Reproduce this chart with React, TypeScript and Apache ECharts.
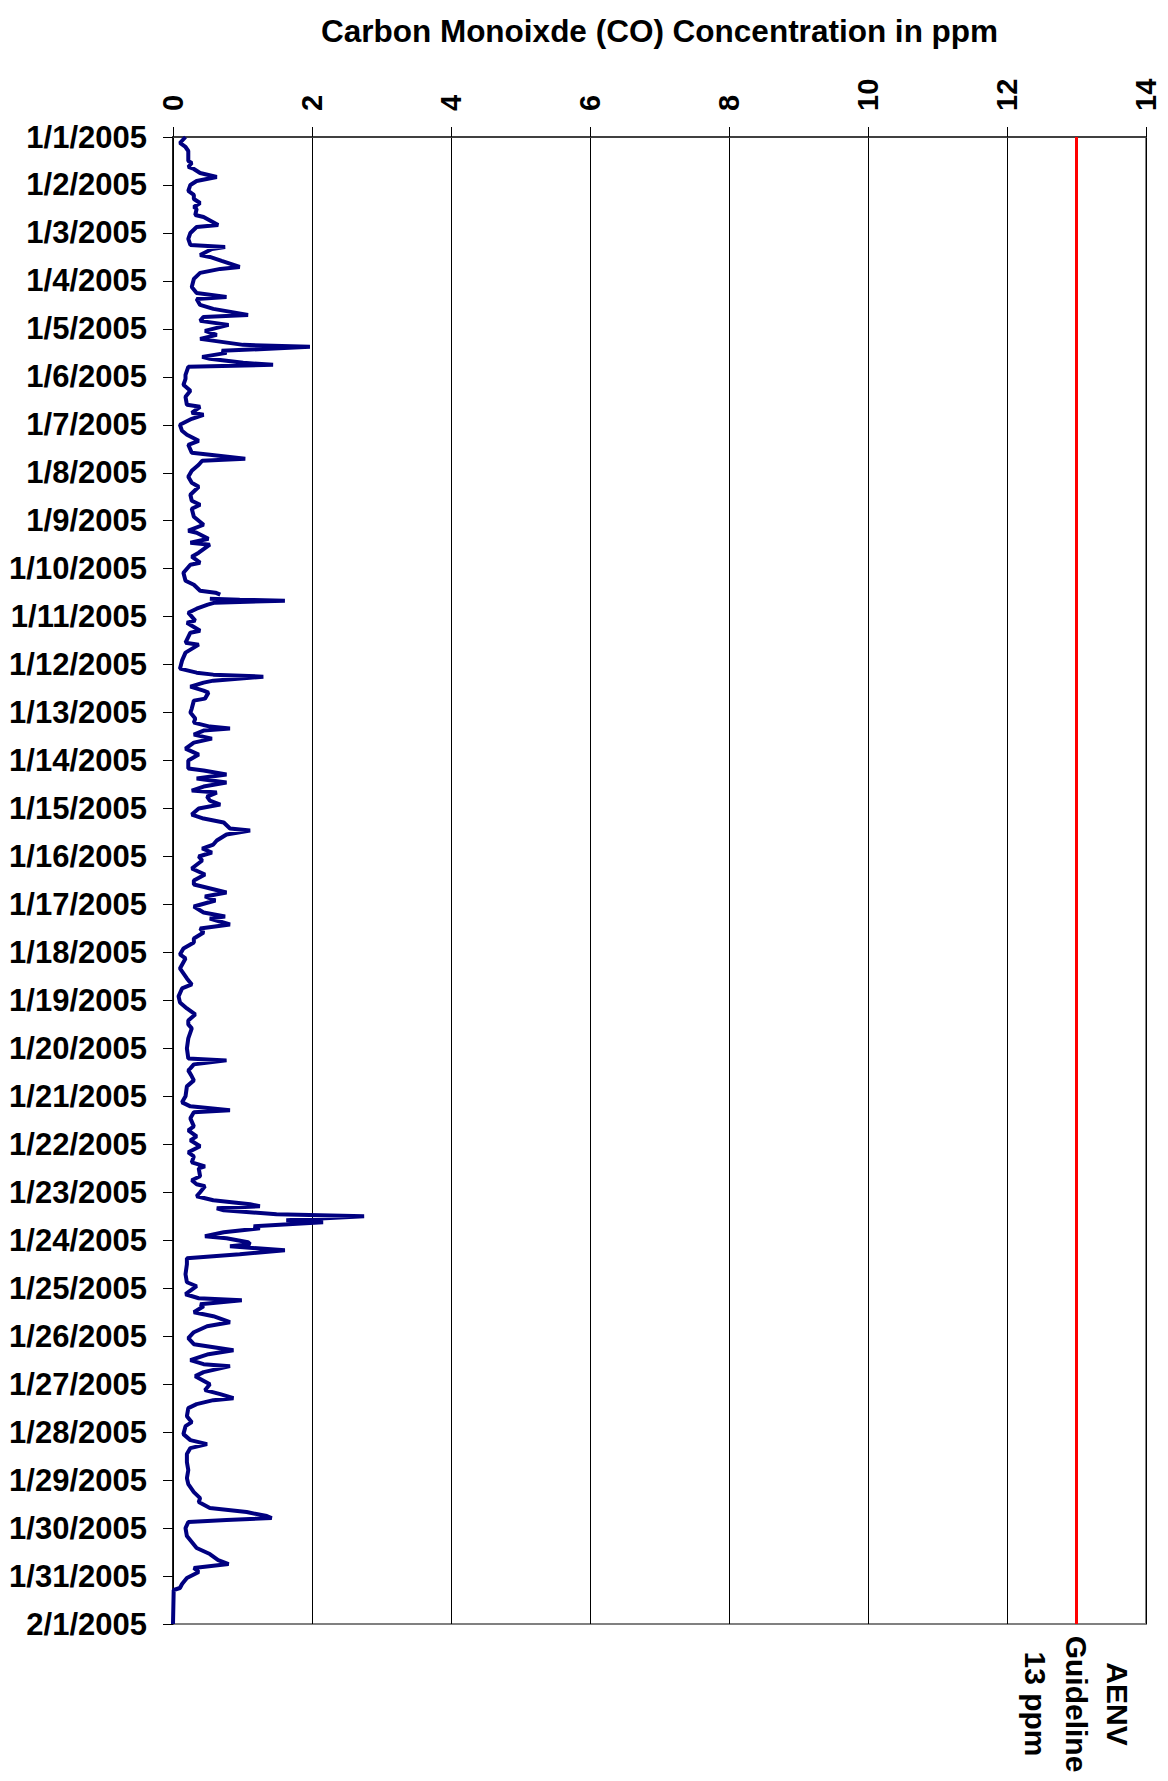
import React, { useEffect, useRef } from "react";
import * as echarts from "echarts";

const TITLE = "Carbon Monoixde (CO) Concentration in ppm";
const GUIDELINE_PPM = 13;
const GUIDELINE_LABEL = "AENV\nGuideline\n13 ppm";
const X_MIN = 0;
const X_MAX = 14;
const X_STEP = 2;
const DATE_LABELS = [
  "1/1/2005", "1/2/2005", "1/3/2005", "1/4/2005", "1/5/2005", "1/6/2005", "1/7/2005", "1/8/2005",
  "1/9/2005", "1/10/2005", "1/11/2005", "1/12/2005", "1/13/2005", "1/14/2005", "1/15/2005", "1/16/2005",
  "1/17/2005", "1/18/2005", "1/19/2005", "1/20/2005", "1/21/2005", "1/22/2005", "1/23/2005", "1/24/2005",
  "1/25/2005", "1/26/2005", "1/27/2005", "1/28/2005", "1/29/2005", "1/30/2005", "1/31/2005", "2/1/2005",
];
const HOURS_PER_DAY = 24;

// [hour since 1/1/2005 00:00, CO ppm]
const week1: [number, number | null][] = [
  [0, 0.18], [3, 0.1], [5, 0.18], [7, 0.22], [10, 0.22], [12, 0.22], [13, 0.27], [15, 0.22], [16, 0.3], [18, 0.39],
  [20, 0.63], [22, 0.34], [24, 0.25], [27, 0.22], [29, 0.3], [31, 0.3], [33, 0.39], [35, 0.3], [36, 0.34], [39, 0.32],
  [40, 0.44], [44, 0.65], [45, 0.34], [48, 0.25], [51, 0.22], [54, 0.25], [55, 0.75], [56, 0.56], [59, 0.39], [60, 0.53],
  [62, 0.7], [65, 0.96], [66, 0.68], [68, 0.39], [71, 0.3], [75, 0.27], [78, 0.34], [80, 0.77], [81, 0.34], [84, 0.39],
  [86, 0.58], [89, 1.08], [90, 0.44], [92, 0.39], [94, 0.8], [97, 0.46], [99, 0.63], [101, 0.39], [104, 1.01], [105, 1.97],
  [107, 0.7], [108, 0.77], [110, 0.42], [111, 0.53], [113, 1.01], [114, 1.44], [115, 0.22], [117, 0.2], [119, 0.18], [121, 0.18],
  [124, 0.15], [127, 0.25], [130, 0.18], [134, 0.2], [135, 0.39], [138, 0.27], [139, 0.44], [141, 0.27], [144, 0.1], [147, 0.13],
  [149, 0.2], [152, 0.37], [154, 0.22], [158, 0.27], [159, 0.53], [161, 1.04], [162, 0.42], [164, 0.37], [167, 0.27],
];
const week2: [number, number | null][] = [
  [170, 0.22], [173, 0.27], [175, 0.37], [179, 0.25], [182, 0.27], [184, 0.39], [186, 0.27], [190, 0.3], [194, 0.44], [197, 0.22],
  [198, 0.34], [201, 0.51], [203, 0.25], [204, 0.53], [208, 0.37], [210, 0.27], [213, 0.39], [214, 0.25], [218, 0.15], [222, 0.18],
  [224, 0.3], [227, 0.39], [228, 0.61], [229, 0.68], [230, null], [231, 0.53], [231.5, 0.96], [232, 1.61], [233, 0.6], [234, 0.5],
  [236, 0.34], [238, 0.22], [242, 0.32], [243, 0.2], [247, 0.39], [248, 0.25], [253, 0.18], [254, 0.37], [258, 0.18], [262, 0.13],
  [266, 0.1], [268, 0.34], [269, 0.58], [270, 1.3], [272, 0.58], [273, 0.44], [275, 0.25], [277, 0.44], [278, 0.51], [281, 0.46],
  [282, 0.3], [286, 0.27], [288, 0.25], [291, 0.32], [293, 0.3], [295, 0.53], [296, 0.82], [297, 0.44], [299, 0.3], [301, 0.56],
  [303, 0.3], [306, 0.18], [309, 0.37], [312, 0.22], [316, 0.22], [317, 0.44], [319, 0.77], [321, 0.34], [323, 0.77], [325, 0.44],
  [327, 0.27], [328, 0.63], [330, 0.49], [332, 0.53], [334, 0.68],
];
const week3: [number, number | null][] = [
  [336, 0.37], [339, 0.27], [341, 0.44], [343, 0.73], [346, 0.82], [347, 1.11], [349, 0.77], [352, 0.63], [354, 0.58], [356, 0.42],
  [358, 0.56], [360, 0.37], [362, 0.42], [366, 0.27], [369, 0.46], [372, 0.3], [374, 0.3], [375, 0.42], [378, 0.77], [380, 0.46],
  [382, 0.61], [385, 0.3], [388, 0.44], [390, 0.75], [391, 0.53], [394, 0.82], [396, 0.39], [398, 0.44], [401, 0.3], [403, 0.3],
  [406, 0.15], [409, 0.1], [411, 0.18], [416, 0.1], [421, 0.2], [424, 0.27], [426, 0.13], [430, 0.08], [433, 0.1], [436, 0.2],
  [439, 0.32], [442, 0.22], [444, 0.22], [446, 0.27], [451, 0.22], [456, 0.2], [461, 0.22], [462, 0.77], [464, 0.3], [466, 0.25],
  [467, 0.22], [470, 0.27], [472, 0.3], [475, 0.2], [480, 0.18], [483, 0.13], [485, 0.25], [487, 0.82], [488, 0.3], [491, 0.25],
  [495, 0.3], [497, 0.22], [500, 0.34], [502, 0.25],
];
const week4: [number, number | null][] = [
  [505, 0.39], [508, 0.22], [510, 0.3], [513, 0.27], [515, 0.46], [516, 0.37], [520, 0.39], [522, 0.27], [524, 0.34], [525, 0.46],
  [528, 0.39], [530, 0.34], [532, 0.58], [534, 1.11], [535, 1.25], [536, 0.63], [537, 0.73], [539, 1.49], [540, 2.75], [542, 1.63],
  [543, 2.16], [545, 1.16], [546, 1.25], [548, 0.73], [550, 0.46], [551, 0.77], [553, 1.08], [554, 1.11], [555, 0.82], [557, 1.61],
  [559, 0.96], [561, 0.2], [564, 0.2], [569, 0.18], [573, 0.2], [575, 0.34], [579, 0.18], [581, 0.37], [582, 0.99], [584, 0.39],
  [585, 0.44], [588, 0.3], [590, 0.58], [593, 0.82], [595, 0.49], [598, 0.3], [601, 0.22], [604, 0.3], [606, 0.68], [607, 0.87],
  [609, 0.51], [612, 0.25], [614, 0.44], [615, 0.82], [618, 0.44], [620, 0.32], [624, 0.53], [627, 0.46], [629, 0.68], [631, 0.87],
  [632, 0.58], [634, 0.34], [636, 0.22], [640, 0.2], [643, 0.27], [645, 0.18], [649, 0.15], [652, 0.25], [654, 0.49], [656, 0.25],
  [659, 0.2], [663, 0.2], [667, 0.22], [671, 0.2],
];
const week5: [number, number | null][] = [
  [674, 0.22], [678, 0.3], [681, 0.39], [683, 0.37], [686, 0.53], [688, 1.06], [690, 1.35], [691, 1.42], [692, 0.77], [693, 0.22],
  [696, 0.18], [700, 0.2], [703, 0.27], [706, 0.34], [709, 0.53], [712, 0.65], [714, 0.8], [716, 0.3], [718, 0.37], [721, 0.2],
  [724, 0.13], [726, 0.1], [727, 0.01], [744, 0],
];

const FONT = '"Liberation Sans", Arial, sans-serif';

export default function App() {
  const ref = useRef<HTMLDivElement>(null);

  useEffect(() => {
    if (!ref.current) return;
    const chart = echarts.init(ref.current, null, { renderer: "svg" });
    const all = [...week1, ...week2, ...week3, ...week4, ...week5];
    const data = all.map(([h, v]) => (v === null ? ["-", h] : [v, h]));
    const totalHours = (DATE_LABELS.length - 1) * HOURS_PER_DAY;

    chart.setOption({
      animation: false,
      grid: {
        left: 173,
        right: 22,
        top: 137,
        bottom: 157,
        show: true,
        borderColor: "#808080",
        borderWidth: 2,
        backgroundColor: "transparent",
      },
      xAxis: {
        type: "value",
        position: "top",
        min: X_MIN,
        max: X_MAX,
        interval: X_STEP,
        axisLine: { show: true, onZero: false, lineStyle: { color: "#404040", width: 2 } },
        axisTick: { show: true, length: 10, lineStyle: { color: "#000", width: 1 } },
        axisLabel: {
          rotate: -90,
          margin: 26,
          fontSize: 29,
          fontWeight: "bold",
          fontFamily: FONT,
          color: "#000",
        },
        splitLine: { show: true, lineStyle: { color: "#000", width: 1 } },
      },
      yAxis: {
        type: "value",
        inverse: true,
        min: 0,
        max: totalHours,
        interval: HOURS_PER_DAY,
        axisLine: { show: true, onZero: false, lineStyle: { color: "#000", width: 1.5 } },
        axisTick: { show: true, length: 10, lineStyle: { color: "#000", width: 1 } },
        axisLabel: {
          margin: 26,
          fontSize: 31,
          fontWeight: "bold",
          fontFamily: FONT,
          color: "#000",
          showMinLabel: true,
          showMaxLabel: true,
          formatter: (v: number) => DATE_LABELS[Math.round(v / HOURS_PER_DAY)] ?? "",
        },
        splitLine: { show: false },
      },
      series: [
        {
          type: "line",
          data,
          showSymbol: false,
          connectNulls: false,
          lineStyle: { color: "#000080", width: 4 },
          itemStyle: { color: "#000080" },
          markLine: {
            silent: true,
            symbol: "none",
            label: { show: false },
            lineStyle: { color: "#ff0000", width: 3, type: "solid" },
            data: [{ xAxis: GUIDELINE_PPM }],
          },
        },
      ],
    });

    const gx = chart.convertToPixel({ xAxisIndex: 0 }, GUIDELINE_PPM) as number;
    const x0 = chart.convertToPixel({ xAxisIndex: 0 }, X_MIN) as number;
    const x1 = chart.convertToPixel({ xAxisIndex: 0 }, X_MAX) as number;
    const yBottom = chart.convertToPixel({ yAxisIndex: 0 }, totalHours) as number;

    chart.setOption({
      graphic: [
        {
          type: "text",
          x: (x0 + x1) / 2,
          y: 31,
          style: {
            text: TITLE,
            font: `bold 31.5px ${FONT}`,
            fill: "#000",
            align: "center",
            verticalAlign: "middle",
            textAlign: "center",
            textVerticalAlign: "middle",
          },
        },
        {
          type: "text",
          x: gx,
          y: yBottom + 80,
          rotation: -Math.PI / 2,
          style: {
            text: GUIDELINE_LABEL,
            font: `bold 30px ${FONT}`,
            lineHeight: 41,
            fill: "#000",
            align: "center",
            verticalAlign: "middle",
            textAlign: "center",
            textVerticalAlign: "middle",
          },
        },
      ],
    });

    return () => chart.dispose();
  }, []);

  return (
    <div
      ref={ref}
      style={{ position: "absolute", left: 0, top: 0, width: 1168, height: 1781 }}
    />
  );
}
